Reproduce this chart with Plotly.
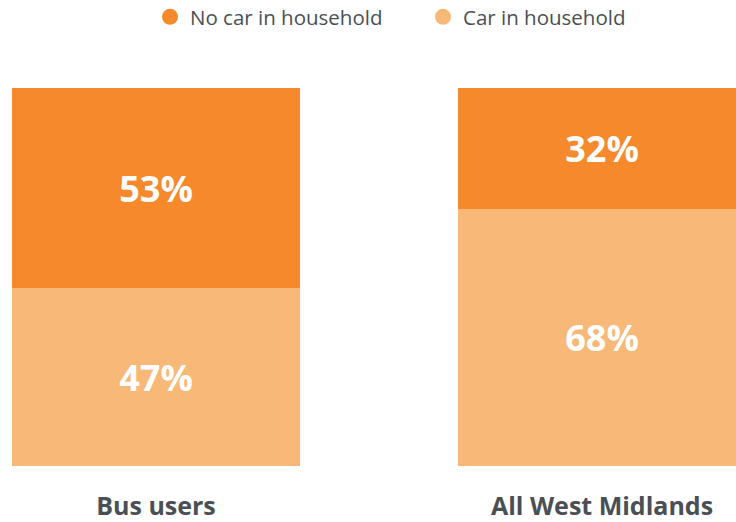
import plotly.graph_objects as go

categories = ["Bus users", "All West Midlands"]
no_car = [53, 32]
car = [47, 68]
series_names = ["No car in household", "Car in household"]
colors = ["#F5892C", "#F8B878"]

fig = go.Figure()
xs = [0, 1]
for vals, col in [(car, colors[1]), (no_car, colors[0])]:
    fig.add_trace(go.Bar(
        x=xs, y=vals, width=0.6457, marker=dict(color=col, line=dict(width=0)),
        text=[f"{v}%" for v in vals], textposition="inside", insidetextanchor="middle",
        textfont=dict(family="Open Sans", size=36, color="white", weight="bold"),
        showlegend=False, hoverinfo="skip",
    ))
for name, col in zip(series_names, colors):
    fig.add_trace(go.Scatter(
        x=[None], y=[None], mode="markers", name=name,
        marker=dict(symbol="circle", size=22, color=col),
    ))

fig.update_layout(
    width=736, height=522, barmode="stack",
    margin=dict(l=0, r=0, t=88, b=56, autoexpand=False),
    paper_bgcolor="white", plot_bgcolor="white",
    font=dict(family="Open Sans", color="#4A4F55"),
    legend=dict(orientation="h", x=150/736, xanchor="left", y=1 - 17/522, yref="container",
                yanchor="middle",
                font=dict(size=20.5, color="#4A4F55"), itemsizing="trace",
                traceorder="normal", entrywidth=228),
    xaxis=dict(range=[-0.3498, 1.3004], tickvals=xs, ticktext=categories,
               showgrid=False, zeroline=False, showline=False, ticks="", automargin=False,
               tickfont=dict(size=25, color="#4A4F55", weight="bold"),
               ticklabelstandoff=23),
    yaxis=dict(range=[0, 100], visible=False, automargin=False),
)
fig.write_html("out.html", config={"displayModeBar": False},
               post_script="document.body.style.margin='0';document.body.style.overflow='hidden';")
